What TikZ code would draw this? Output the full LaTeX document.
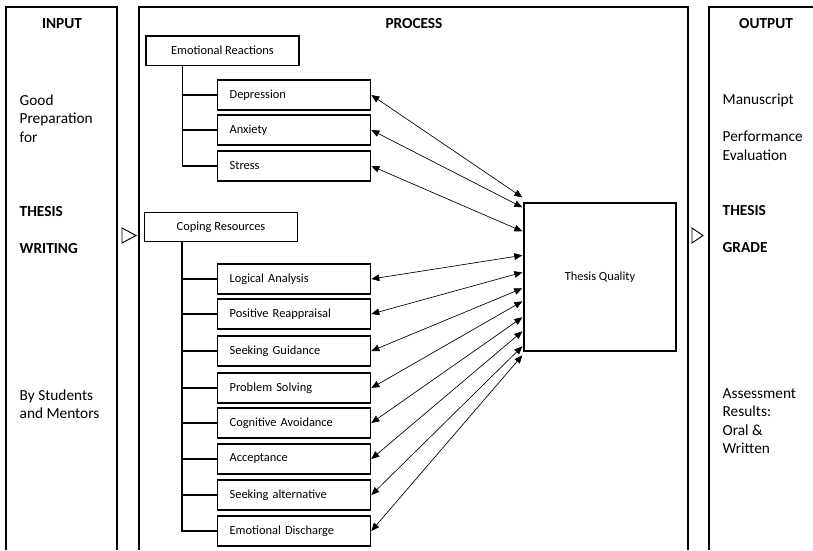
\documentclass[tikz,border=0pt]{standalone}
\usepackage{fontspec}
\setmainfont{Carlito}
\usetikzlibrary{arrows.meta,calc}

\begin{document}
\begin{tikzpicture}[x=0.75pt, y=-0.75pt, line width=1pt,
        head/.style={draw, minimum width=114.75pt, minimum height=22pt, font=\fontsize{9.3}{11}\selectfont},
        item/.style={draw, anchor=west, minimum height=22.5pt, text width=96.75pt, inner xsep=9pt, align=left, font=\fontsize{9.3}{11}\selectfont},
        big/.style={anchor=west, align=left, inner sep=0pt, font=\fontsize{11.5}{13.9}\selectfont},
        bigbold/.style={big, font=\fontsize{11.5}{13.9}\selectfont\bfseries},
        title/.style={font=\fontsize{11.5}{13.9}\selectfont\bfseries},
        link/.style={{Triangle[length=6pt,width=5pt]}-{Triangle[length=6pt,width=5pt]}, line width=0.5pt}]
        \useasboundingbox (0,0) rectangle (813,550);
        \draw (6,550) -- (6,7) -- (117,7) -- (117,550);
        \draw (139,550) -- (139,7) -- (688,7) -- (688,550);
        \draw (709,550) -- (709,7) -- (813,7);
        \draw[line width=0.7pt] (122,228) -- (136,235.5) -- (122,243) -- cycle;
        \draw[line width=0.7pt] (692,228) -- (703,235.5) -- (692,243) -- cycle;
        \node[title] (input) at (62,24) {INPUT};
        \node[title] (process) at (414,24) {PROCESS};
        \node[title] (output) at (766,24) {OUTPUT};
        \node[big] (good) at (19,118.5) {Good\\Preparation\\for};
        \node[bigbold] (thesisin) at (19,212) {THESIS};
        \node[bigbold] (writing) at (19,249) {WRITING};
        \node[big] (students) at (19,404) {By Students\\and Mentors};
        \node[big] (manuscript) at (722,100) {Manuscript};
        \node[big] (evaluation) at (722,146) {Performance\\Evaluation};
        \node[bigbold] (thesisout) at (722,211) {THESIS};
        \node[bigbold] (grade) at (722,248) {GRADE};
        \node[big] (results) at (722,421) {Assessment\\Results:\\Oral \&\\Written};
        \node[head] (er) at (222.5,50.5) {Emotional Reactions};
        \node[item] (dep) at (217,95) {Depression};
        \node[item] (anx) at (217,130) {Anxiety};
        \node[item] (str) at (217,166) {Stress};
        \node[head] (cr) at (221,227) {Coping Resources};
        \node[item] (la) at (217,279) {Logical Analysis};
        \node[item] (pr) at (217,314) {Positive Reappraisal};
        \node[item] (sg) at (217,351) {Seeking Guidance};
        \node[item] (ps) at (217,388) {Problem Solving};
        \node[item] (ca) at (217,423) {Cognitive Avoidance};
        \node[item] (ac) at (217,459) {Acceptance};
        \node[item] (sa) at (217,495) {Seeking alternative};
        \node[item] (ed) at (217,531) {Emotional Discharge};
        \node[draw, minimum width=114pt, minimum height=111pt, font=\fontsize{9.3}{11}\selectfont] (tq) at (600,277) {Thesis Quality};
        \foreach \n in {dep,anx,str}
                \draw ($(er.south west)+(37,0)$) |- (\n.west);
        \foreach \n in {la,pr,sg,ps,ca,ac,sa,ed}
                \draw ($(cr.south west)+(38,0)$) |- (\n.west);
        \foreach \n/\d in {dep/-5,anx/5,str/29,la/53,pr/70,sg/86,ps/99,ca/115,ac/129,sa/144,ed/153}
                \draw[link] (\n.east) -- ($(tq.north west)+(-1,\d)$);
\end{tikzpicture}
\end{document}
